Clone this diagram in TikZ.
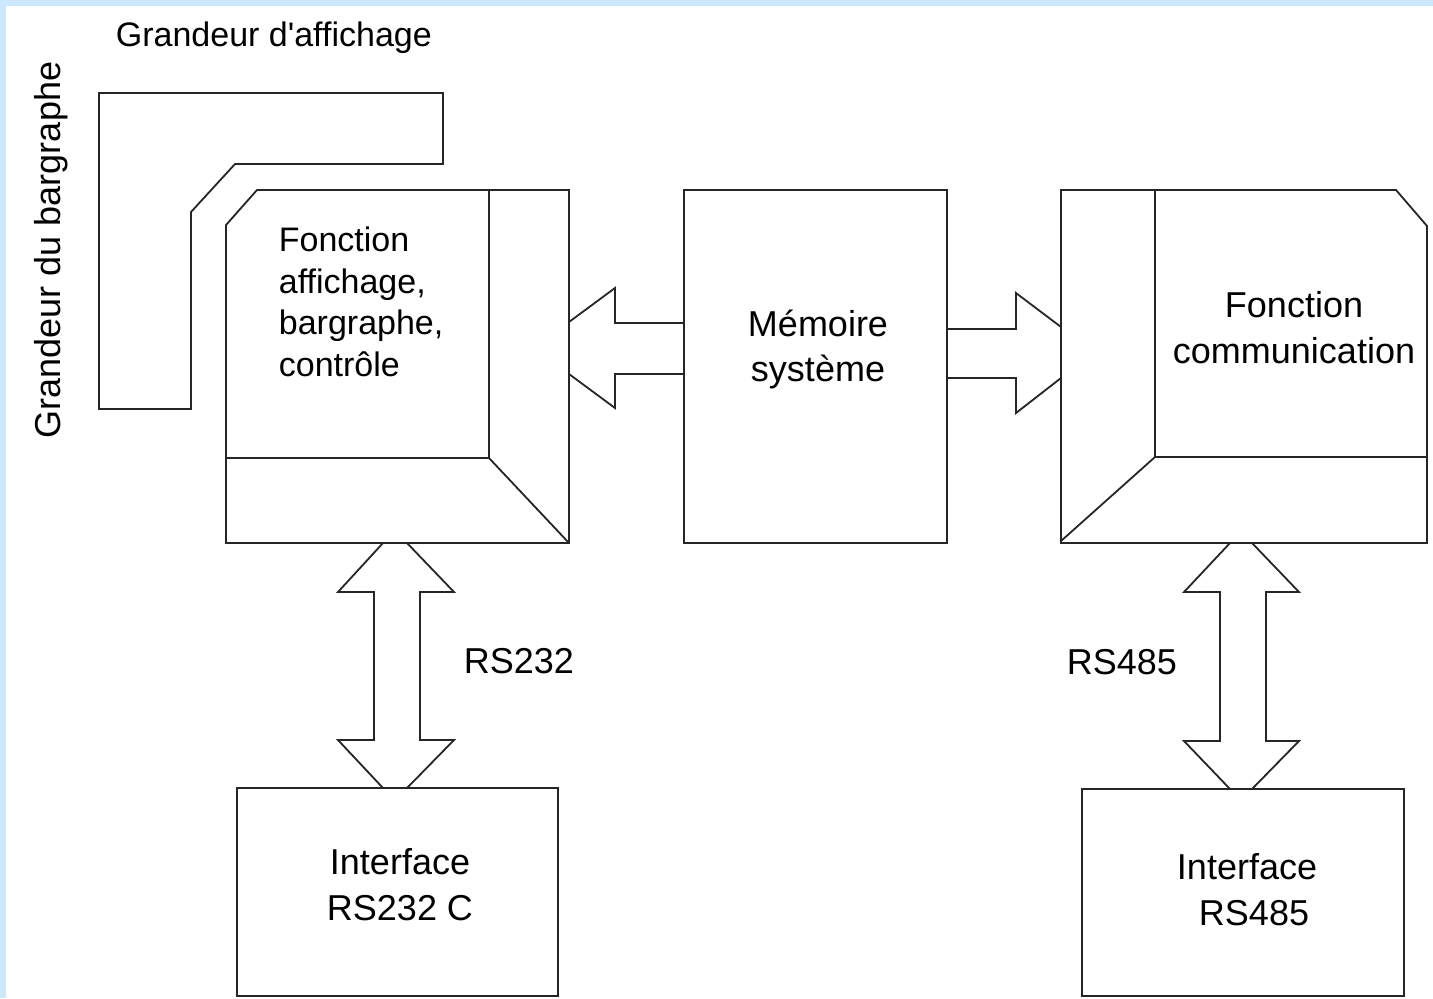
\documentclass[tikz,border=0pt]{standalone}
\usepackage{fontspec}
\setmainfont{Liberation Sans}
\usepackage{tikz}
\definecolor{bordblue}{RGB}{204,232,255}

\begin{document}
\begin{tikzpicture}[x=0.5pt, y=-0.5pt, line width=0.9pt, line join=miter,
    txt/.style = {inner sep=0pt, font=\fontsize{18}{23}\selectfont},
    txtl/.style = {inner sep=0pt, align=left, font=\fontsize{17}{20.85}\selectfont},
    txtc/.style = {inner sep=0pt, align=center, font=\fontsize{18}{23}\selectfont},
    outline/.style = {draw=black!85}]
                \useasboundingbox (0,0) rectangle (1433,998);
                \fill[white] (0,0) rectangle (1433,998);
                \fill[bordblue] (0,0) rectangle (1433,6);
                \fill[bordblue] (0,0) rectangle (6,998);
                % labels
                \node[txt, anchor=base west, font=\fontsize{17}{20}\selectfont] (affgr) at (115,46) {Grandeur d\textquotesingle affichage};
                \node[txt, anchor=base west, rotate=90] (bargr) at (60,439) {Grandeur du bargraphe};
                \node[txtl, anchor=north west] (affich) at (278,226) {Fonction\\affichage,\\bargraphe,\\contrôle};
                \node[txtc, anchor=north, font=\fontsize{18}{22.5}\selectfont] (memoire) at (818,309) {Mémoire\\système};
                \node[txtc, anchor=north] (comm) at (1294,291) {Fonction\\communication};
                \node[txtc, anchor=north] (if232) at (400,848) {Interface\\RS232 C};
                \node[txtc, anchor=north] (if485) at (1247,853) {Interface\\\hspace*{7pt}RS485};
                \node[txt, anchor=base west] (rs232) at (463,673) {RS232};
                \node[txt, anchor=base west] (rs485) at (1066,674) {RS485};
                % bargraphe / affichage outline
                \draw[outline] (99,93) -- (443,93) -- (443,164) -- (235,164) -- (191,212) -- (191,409) -- (99,409) -- cycle;
                % bloc affichage
                \draw[outline] (257,190) -- (569,190) -- (569,543) -- (226,543) -- (226,225) -- cycle;
                \draw[outline] (489,190) -- (489,458) -- (226,458);
                \draw[outline] (489,458) -- (569,543);
                % memoire
                \draw[outline] (684,190) rectangle (947,543);
                % bloc communication
                \draw[outline] (1061,190) -- (1396,190) -- (1427,226) -- (1427,543) -- (1061,543) -- cycle;
                \draw[outline] (1155,190) -- (1155,457) -- (1427,457);
                \draw[outline] (1155,457) -- (1061,541);
                % interfaces
                \draw[outline] (237,788) rectangle (558,996);
                \draw[outline] (1082,789) rectangle (1404,996);
                % fleches
                \draw[outline] (684,323) -- (615,323) -- (615,288) -- (569,322);
                \draw[outline] (569,374) -- (615,408) -- (615,374) -- (684,374);
                \draw[outline] (947,329) -- (1016,329) -- (1016,293) -- (1061,327);
                \draw[outline] (1061,378) -- (1016,413) -- (1016,378) -- (947,378);
                \draw[outline] (383,543) -- (338,592) -- (374,592) -- (374,740) -- (338,740) -- (383,788);
                \draw[outline] (407,788) -- (454,740) -- (420,740) -- (420,592) -- (454,592) -- (407,543);
                \draw[outline] (1230,543) -- (1184,592) -- (1220,592) -- (1220,741) -- (1184,741) -- (1230,789);
                \draw[outline] (1252,789) -- (1299,741) -- (1266,741) -- (1266,592) -- (1299,592) -- (1252,543);
            \end{tikzpicture}
\end{document}
